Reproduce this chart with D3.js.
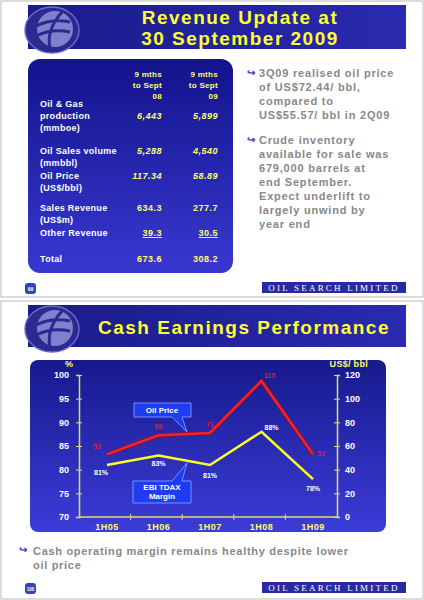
<!DOCTYPE html><html><head><meta charset="utf-8">
<script src="https://cdn.jsdelivr.net/npm/d3@7"></script>
<style>body{margin:0;background:#fff}svg{display:block;font-family:"Liberation Sans",Arial,sans-serif;font-weight:bold}</style>
</head><body><svg id="c" width="424" height="600"></svg>
<script>
const periods=["1H05","1H06","1H07","1H08","1H09"];
const oilPrice=[53,69,71,115,53];
const margin=[81,83,81,88,78];
const marginLabels=["81%","83%","81%","88%","78%"];
const leftTicks=[70,75,80,85,90,95,100];
const rightTicks=[0,20,40,60,80,100,120];
const tableRows=[
 {label:["Oil & Gas","production","(mmboe)"],v08:"6,443",v09:"5,899",italic:true},
 {label:["Oil Sales volume","(mmbbl)"],v08:"5,288",v09:"4,540",italic:true},
 {label:["Oil Price","(US$/bbl)"],v08:"117.34",v09:"58.89",italic:true},
 {label:["Sales Revenue","(US$m)"],v08:"634.3",v09:"277.7"},
 {label:["Other Revenue"],v08:"39.3",v09:"30.5",underline:true},
 {label:["Total"],v08:"673.6",v09:"308.2"}];
const rowY=[107,154,179,211,236,262];
const svg=d3.select("#c");
const defs=svg.append("defs");
const g1=defs.append("linearGradient").attr("id","ban").attr("x1",0).attr("x2",1);
g1.append("stop").attr("offset",0).attr("stop-color","#1a1a8a");g1.append("stop").attr("offset",1).attr("stop-color","#2a2ab0");
const g2=defs.append("linearGradient").attr("id","pan").attr("x1",0).attr("x2",0).attr("y1",0).attr("y2",1);
g2.append("stop").attr("offset",0).attr("stop-color","#161a8c");g2.append("stop").attr("offset",1).attr("stop-color","#3c3cd8");
const g3=defs.append("linearGradient").attr("id","tab").attr("x1",0).attr("x2",0).attr("y1",0).attr("y2",1);
g3.append("stop").attr("offset",0).attr("stop-color","#13138c");g3.append("stop").attr("offset",1).attr("stop-color","#3838d0");
svg.append("rect").attr("x",1).attr("y",1).attr("width",422).attr("height",296).attr("fill","none").attr("stroke","#bbb");
svg.append("rect").attr("x",1).attr("y",301).attr("width",422).attr("height",298).attr("fill","none").attr("stroke","#bbb");
function banner(y,h,lines,size,cxText){
 svg.append("rect").attr("x",28).attr("y",y).attr("width",378).attr("height",h).attr("fill","url(#ban)");
 const cx=52,cy=y+h/2+3;
 svg.append("ellipse").attr("cx",cx).attr("cy",cy).attr("rx",27).attr("ry",23).attr("fill","#2a2a90").attr("stroke","#6a6acc").attr("stroke-width",1.5);
 svg.append("ellipse").attr("cx",cx+3).attr("cy",cy-1).attr("rx",18).attr("ry",18).attr("fill","#8080cc");
 svg.append("path").attr("d",`M${cx-16},${cy-4} Q${cx},${cy-12} ${cx+18},${cy-8} M${cx-16},${cy+6} Q${cx},${cy-2} ${cx+18},${cy+2} M${cx+10},${cy-18} Q${cx-6},${cy} ${cx-2},${cy+18}`).attr("stroke","#2a2a90").attr("stroke-width",3).attr("fill","none");
 lines.forEach((t,i)=>svg.append("text").attr("x",cxText).attr("y",y+(lines.length==2?19+i*21:h/2+8)).attr("text-anchor","middle").attr("fill","#ffff33").attr("font-size",size).attr("letter-spacing",1.5).text(t));
}
banner(5,44,["Revenue Update at","30 September 2009"],19,240);
banner(305,42,["Cash Earnings Performance"],19,244);
svg.append("rect").attr("x",28).attr("y",59).attr("width",205).attr("height",214).attr("rx",12).attr("fill","url(#tab)");
["9 mths","to Sept","08"].forEach((t,i)=>{
 svg.append("text").attr("x",162).attr("y",77+i*11).attr("text-anchor","end").attr("fill","#ffff66").attr("font-size",8).attr("letter-spacing",0.3).text(t);
 svg.append("text").attr("x",218).attr("y",77+i*11).attr("text-anchor","end").attr("fill","#ffff66").attr("font-size",8).attr("letter-spacing",0.3).text(i==2?"09":t);
});
tableRows.forEach((r,i)=>{
 r.label.forEach((t,j)=>svg.append("text").attr("x",40).attr("y",rowY[i]+j*12).attr("fill","#fff").attr("font-size",9).attr("letter-spacing",0.3).text(t));
 const vy=rowY[i]+(r.label.length==3?12:0);
 [[r.v08,162],[r.v09,218]].forEach(([v,x])=>svg.append("text").attr("x",x).attr("y",vy).attr("text-anchor","end").attr("fill","#ffff66").attr("font-size",9).attr("letter-spacing",0.5).attr("font-style",r.italic?"italic":null).attr("text-decoration",r.underline?"underline":null).text(v));
});
const b1=["3Q09 realised oil price","of US$72.44/ bbl,","compared to","US$55.57/ bbl in 2Q09"];
const b2=["Crude inventory","available for sale was","679,000 barrels at","end September.","Expect underlift to","largely unwind by","year end"];
function arrow(x,y){svg.append("text").attr("x",x).attr("y",y).attr("fill","#3344cc").attr("font-size",10).text("↪");}
arrow(247,76);b1.forEach((t,i)=>svg.append("text").attr("x",259).attr("y",77+i*14).attr("fill","#888").attr("font-size",11).attr("letter-spacing",0.8).text(t));
arrow(247,143);b2.forEach((t,i)=>svg.append("text").attr("x",259).attr("y",144+i*14).attr("fill","#888").attr("font-size",11).attr("letter-spacing",0.8).text(t));
function footer(y,num){
 svg.append("rect").attr("x",262).attr("y",y).attr("width",144).attr("height",11).attr("fill","#2a2aa0");
 svg.append("text").attr("x",334).attr("y",y+9).attr("text-anchor","middle").attr("fill","#fff").attr("font-family","Liberation Serif").attr("font-weight","normal").attr("font-size",9).attr("letter-spacing",2.2).text("OIL SEARCH LIMITED");
 svg.append("rect").attr("x",25).attr("y",y+1).attr("width",11).attr("height",11).attr("rx",3).attr("fill","#3344bb");
 svg.append("text").attr("x",30.5).attr("y",y+9).attr("text-anchor","middle").attr("fill","#fff").attr("font-size",num.length>2?4.5:5).text(num);
}
footer(282,"99");footer(582,"100");
svg.append("rect").attr("x",30).attr("y",360).attr("width",356).attr("height",172).attr("rx",8).attr("fill","url(#pan)");
const x=d3.scalePoint().domain(periods).range([107,313]);
const yl=d3.scaleLinear().domain([70,100]).range([517,375]);
const yr=d3.scaleLinear().domain([0,120]).range([517,375]);
const axc="#dddd77";
function styleAx(s,tx){s.select(".domain").attr("stroke",axc).attr("stroke-width",1.5);s.selectAll("line").attr("stroke",axc).attr("x2",6).attr("transform","translate(-3,0)");s.selectAll("text").attr("fill","#fff").attr("font-size",9).attr("font-family","Liberation Sans").attr("font-weight","bold").attr("x",tx);}
svg.append("g").attr("transform","translate(79,0)").call(d3.axisLeft(yl).tickValues(leftTicks).tickSize(3)).call(s=>styleAx(s,-10));
svg.append("g").attr("transform","translate(337,0)").call(d3.axisRight(yr).tickValues(rightTicks).tickSize(3)).call(s=>styleAx(s,8));
const xb=d3.scaleLinear().domain([0,5]).range([79,337]);
const xg=svg.append("g").attr("transform","translate(0,517)");
xg.append("line").attr("x1",79).attr("x2",337).attr("stroke",axc).attr("stroke-width",1.5);
d3.range(1,5).forEach(i=>xg.append("line").attr("x1",xb(i)).attr("x2",xb(i)).attr("y1",-3).attr("y2",3).attr("stroke",axc));
periods.forEach(p=>xg.append("text").attr("x",x(p)).attr("y",13).attr("text-anchor","middle").attr("fill","#ffff66").attr("font-size",9).attr("letter-spacing",0.5).text(p));
svg.append("text").attr("x",69).attr("y",367).attr("text-anchor","middle").attr("fill","#ffff66").attr("font-size",9).text("%");
svg.append("text").attr("x",368).attr("y",367).attr("text-anchor","end").attr("fill","#ffff66").attr("font-size",9).attr("letter-spacing",0.3).text("US$/ bbl");
const lo=d3.line().x((d,i)=>x(periods[i])).y(d=>yr(d));
const lm=d3.line().x((d,i)=>x(periods[i])).y(d=>yl(d));
svg.append("path").attr("d",lo(oilPrice)).attr("fill","none").attr("stroke","#8a1020").attr("stroke-width",4);
svg.append("path").attr("d",lo(oilPrice)).attr("fill","none").attr("stroke","#ee2233").attr("stroke-width",2.5);
svg.append("path").attr("d",lm(margin)).attr("fill","none").attr("stroke","#ffff22").attr("stroke-width",2.5);
const olOff=[[-10,-5],[0,-6],[0,-6],[8,-3],[8,2]];
oilPrice.forEach((v,i)=>svg.append("text").attr("x",x(periods[i])+olOff[i][0]).attr("y",yr(v)+olOff[i][1]).attr("text-anchor","middle").attr("fill","#cc2244").attr("font-size",7).text(v));
const mOff=[[-6,10],[0,11],[0,13],[10,-2],[0,12]];
marginLabels.forEach((t,i)=>svg.append("text").attr("x",x(periods[i])+mOff[i][0]).attr("y",yl(margin[i])+mOff[i][1]).attr("text-anchor","middle").attr("fill","#fff").attr("font-size",7).text(t));
svg.append("path").attr("d","M134,403 H191 V417 H182 L187,432 L172,417 H134 Z").attr("fill","#1e3cf0").attr("stroke","#88aaff").attr("stroke-width",0.8);
svg.append("text").attr("x",162).attr("y",413).attr("text-anchor","middle").attr("fill","#fff").attr("font-size",8).text("Oil Price");
svg.append("path").attr("d","M133,481 H172 L187,463 L182,481 H191 V503 H133 Z").attr("fill","#1e3cf0").attr("stroke","#88aaff").attr("stroke-width",0.8);
svg.append("text").attr("x",162).attr("y",490).attr("text-anchor","middle").attr("fill","#fff").attr("font-size",8).text("EBI TDAX");
svg.append("text").attr("x",162).attr("y",499).attr("text-anchor","middle").attr("fill","#fff").attr("font-size",8).text("Margin");
arrow(19,553);
svg.append("text").attr("x",33).attr("y",555).attr("fill","#888").attr("font-size",11).attr("letter-spacing",0.7).text("Cash operating margin remains healthy despite lower");
svg.append("text").attr("x",33).attr("y",569).attr("fill","#888").attr("font-size",11).attr("letter-spacing",0.7).text("oil price");
</script></body></html>
